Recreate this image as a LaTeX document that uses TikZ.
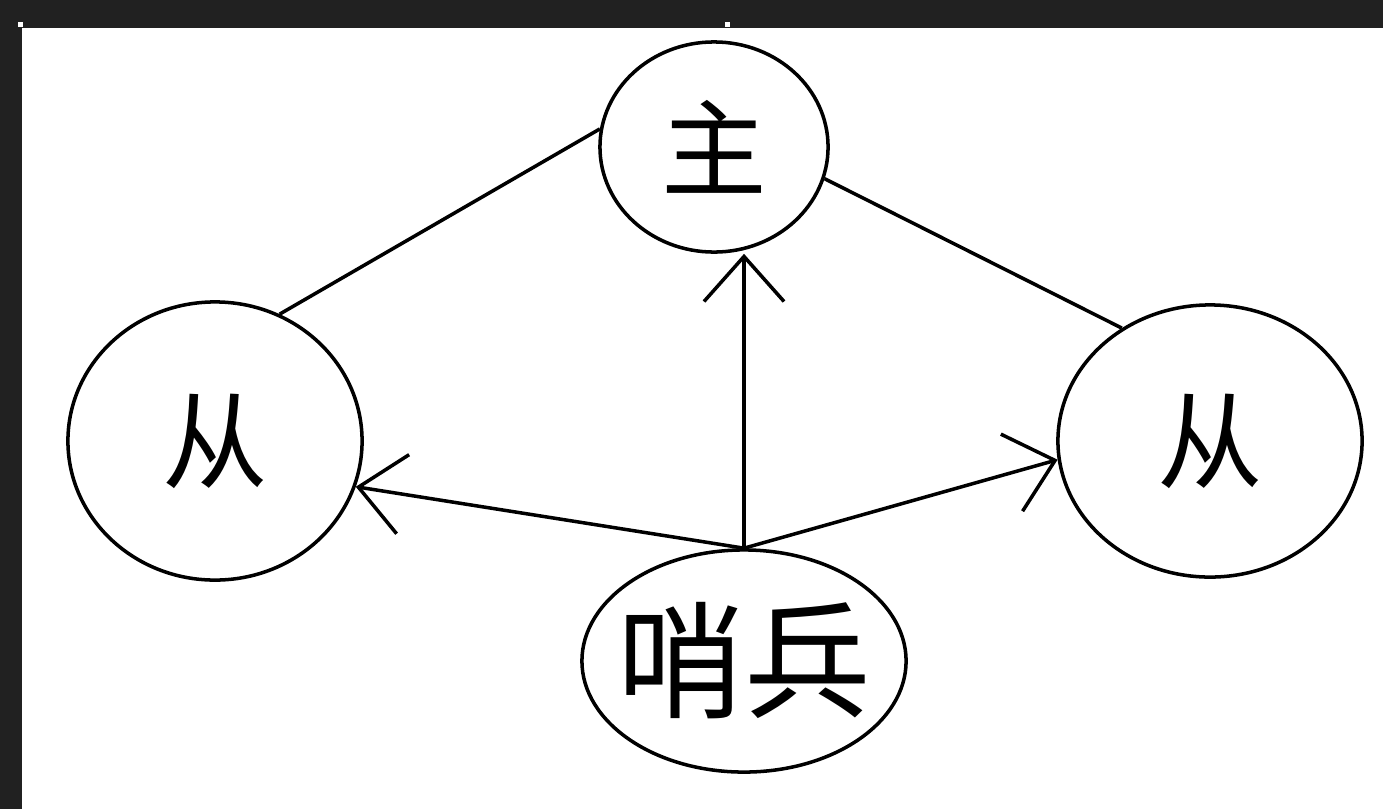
\documentclass[tikz,border=0pt]{standalone}
\usepackage{fontspec}
\newfontfamily\cjk{Noto Sans CJK SC}
\usetikzlibrary{shapes.geometric,arrows.meta}
\tikzset{
  role/.style={draw, ellipse, line width=1pt, inner sep=0pt, font=\cjk\fontsize{30}{30}\selectfont},
  link/.style={line width=1pt},
  watch/.style={line width=1pt, -{Straight Barb[length=4.5mm, width=8mm, line width=1pt]}}
}
\begin{document}
\begin{tikzpicture}[x=0.01cm, y=-0.01cm]
  % frame
  \fill[black!87] (0,0) rectangle (1383,809);
  \fill[white] (22,28) rectangle (1383,809);
  \fill[white] (18,22) rectangle (23,27);
  \fill[white] (725,22) rectangle (730,27);
  \useasboundingbox (0,0) rectangle (1383,809);
  \node[role, minimum width=2.28cm, minimum height=2.1cm] (zhu) at (714,147) {主};
  \node[role, minimum width=2.94cm, minimum height=2.78cm] (cong1) at (215,441) {从};
  \node[role, minimum width=3.04cm, minimum height=2.72cm] (cong2) at (1210,441) {从};
  \node[role, inner xsep=-1.2mm, minimum width=3.24cm, minimum height=2.22cm,
        font=\cjk\fontsize{36}{36}\selectfont] (shaobing) at (744,661) {哨兵};
  \draw[link] (zhu.171) -- (cong1.63);
  \draw[link] (zhu.344) -- (cong2.128);
  \draw[watch] (shaobing.north) -- (zhu.south -| shaobing.north);
  \draw[watch] (shaobing.north) -- (cong1.-18);
  \draw[watch] (shaobing.north) -- (cong2.187);
\end{tikzpicture}
\end{document}
